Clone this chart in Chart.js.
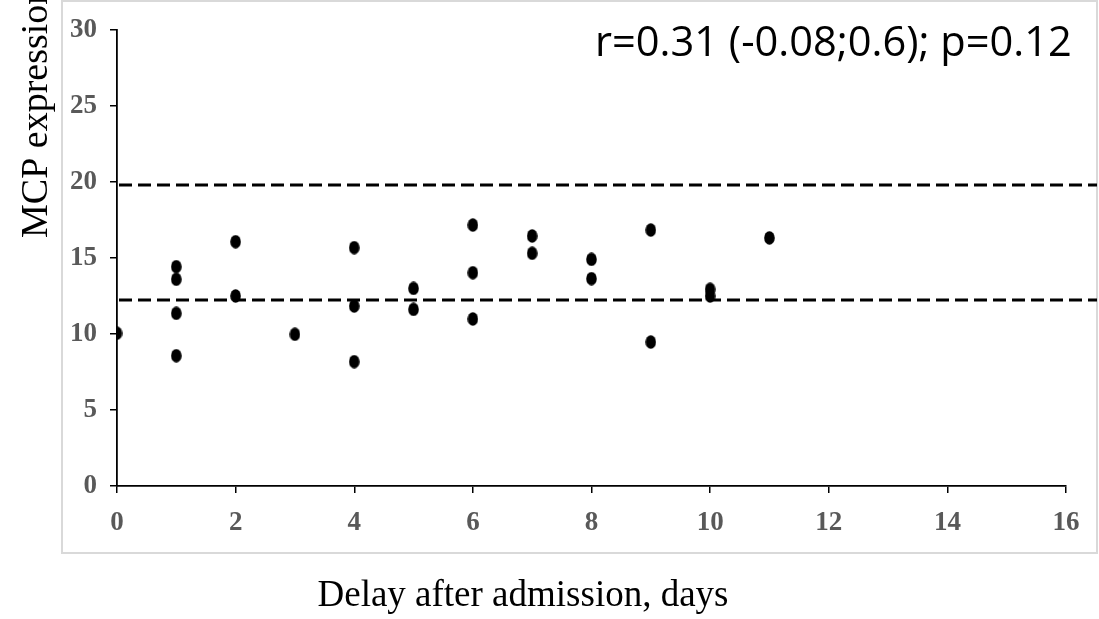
<!DOCTYPE html>
<html>
<head>
<meta charset="utf-8">
<script src="https://cdn.jsdelivr.net/npm/chart.js@4/dist/chart.umd.min.js"></script>
<style>
  html, body { margin: 0; padding: 0; background: #ffffff; }
  #wrap { position: relative; width: 1099px; height: 619px; }
</style>
</head>
<body>
<div id="wrap"><canvas id="c" width="1099" height="619"></canvas></div>
<script>
// ---- data ----
const delayDays = [0, 1, 1, 1, 1, 2, 2, 3, 4, 4, 4, 5, 5, 6, 6, 6, 7, 7, 8, 8, 9, 9, 10, 10, 11];
const mcpValues = [10.05, 14.43, 13.6, 11.36, 8.57, 16.07, 12.5, 9.98, 15.68, 11.84, 8.18, 13.0, 11.62,
                   17.17, 14.03, 10.99, 16.45, 15.31, 14.91, 13.64, 16.84, 9.47, 12.94, 12.5, 16.32];
const refLines = [19.8, 12.25];
const xTicks = [0, 2, 4, 6, 8, 10, 12, 14, 16];
const yTicks = [0, 5, 10, 15, 20, 25, 30];
const xTitle = 'Delay after admission, days';
const yTitle = 'MCP expression';
const statText = 'r=0.31 (-0.08;0.6); p=0.12';

// ellipse marker
const marker = document.createElement('canvas');
marker.width = 11; marker.height = 14;
(function(){
  const m = marker.getContext('2d');
  m.fillStyle = '#000';
  m.beginPath();
  m.ellipse(5.5, 7, 5.3, 6.7, 0, 0, Math.PI * 2);
  m.fill();
})();

const points = delayDays.map((d, i) => ({ x: d, y: mcpValues[i] }));

const decor = {
  id: 'decor',
  beforeDraw(chart) {
    const ctx = chart.ctx;
    ctx.save();
    ctx.fillStyle = '#fff';
    ctx.fillRect(0, 0, chart.width, chart.height);
    ctx.strokeStyle = '#d9d9d9';
    ctx.lineWidth = 2;
    ctx.strokeRect(62, 1, 1035, 552);
    ctx.restore();
  },
  afterDatasetsDraw(chart) {
    const ctx = chart.ctx;
    const ys = chart.scales.y;
    ctx.save();
    ctx.strokeStyle = '#000';
    ctx.lineWidth = 3;
    ctx.setLineDash([13, 6]);
    refLines.forEach(v => {
      const py = Math.round(ys.getPixelForValue(v));
      ctx.beginPath();
      ctx.moveTo(chart.chartArea.left + 2, py);
      ctx.lineTo(1097, py);
      ctx.stroke();
    });
    ctx.setLineDash([]);
    // stat text
    ctx.fillStyle = '#000';
    let size = 40;
    ctx.font = size + 'px "Open Sans"';
    const w = ctx.measureText(statText).width;
    size = size * 477 / w;
    ctx.font = size.toFixed(1) + 'px "Open Sans"';
    ctx.textAlign = 'left';
    ctx.textBaseline = 'alphabetic';
    ctx.fillText(statText, 595, 56);
    // x title
    ctx.font = '37px "Liberation Serif"';
    ctx.textAlign = 'center';
    ctx.fillText(xTitle, 523, 606);
    // y title
    ctx.translate(47, 238);
    ctx.rotate(-Math.PI / 2);
    ctx.textAlign = 'left';
    ctx.font = '38px "Liberation Serif"';
    ctx.fillText(yTitle, 0, 0);
    ctx.restore();
  }
};

new Chart(document.getElementById('c'), {
  type: 'scatter',
  data: {
    datasets: [{
      data: points,
      pointStyle: marker,
      pointRadius: 6,
      pointHoverRadius: 6,
      backgroundColor: '#000',
      borderColor: '#000'
    }]
  },
  options: {
    responsive: false,
    animation: false,
    devicePixelRatio: 1,
    layout: { padding: { left: 0, top: 30, right: 33, bottom: 0 } },
    plugins: { legend: { display: false }, tooltip: { enabled: false } },
    scales: {
      x: {
        type: 'linear',
        min: 0, max: 16,
        afterBuildTicks(scale) { scale.ticks = xTicks.map(v => ({ value: v })); },
        afterFit(scale) { scale.height = 619 - 486; },
        grid: { display: true, drawOnChartArea: false, drawTicks: true, tickLength: 7, color: '#000', lineWidth: 1.5 },
        border: { display: true, color: '#000', width: 1.8 },
        ticks: { color: '#595959', padding: 14, maxRotation: 0, font: { family: '"Liberation Serif"', weight: 'bold', size: 27 } }
      },
      y: {
        type: 'linear',
        min: 0, max: 30,
        afterBuildTicks(scale) { scale.ticks = yTicks.map(v => ({ value: v })); },
        afterFit(scale) { scale.width = 117; },
        grid: { display: true, drawOnChartArea: false, drawTicks: true, tickLength: 7, color: '#000', lineWidth: 1.5 },
        border: { display: true, color: '#000', width: 1.8 },
        ticks: { color: '#595959', padding: 13, font: { family: '"Liberation Serif"', weight: 'bold', size: 27 } }
      }
    }
  },
  plugins: [decor]
});
</script>
</body>
</html>
